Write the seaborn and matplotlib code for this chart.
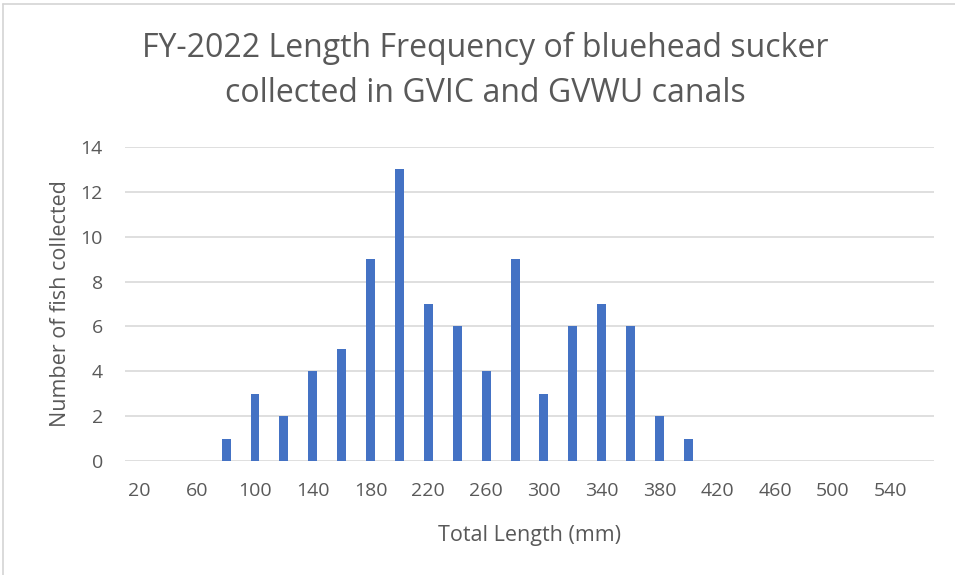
import pandas as pd
import matplotlib.pyplot as plt
from matplotlib.lines import Line2D
import seaborn as sns

# Length classes (mm) and counts
lengths = [20, 40, 60, 80, 100, 120, 140, 160, 180, 200, 220, 240, 260, 280,
           300, 320, 340, 360, 380, 400, 420, 440, 460, 480, 500, 520, 540, 560]
counts = [0, 0, 0, 1, 3, 2, 4, 5, 9, 13, 7, 6, 4, 9,
          3, 6, 7, 6, 2, 1, 0, 0, 0, 0, 0, 0, 0, 0]
y_ticks = [0, 2, 4, 6, 8, 10, 12, 14]

df = pd.DataFrame({'length': [str(v) for v in lengths], 'count': counts})

sns.set_style('white')
plt.rcParams['font.family'] = ['Open Sans', 'DejaVu Sans']
text_color = '#595959'
grid_color = '#D9D9D9'

fig = plt.figure(figsize=(9.55, 5.75), dpi=100)
ax = fig.add_axes([125 / 955, 1 - 461 / 575, (934 - 125) / 955, (461 - 147) / 575])

sns.barplot(data=df, x='length', y='count', order=df['length'], color='#4472C4',
            width=0.31, saturation=1, linewidth=0, ax=ax, zorder=3)

ax.set_xlim(-0.5, len(lengths) - 0.5)
ax.set_ylim(0, 14)
ax.set_yticks(y_ticks)
ax.set_yticklabels([str(v) for v in y_ticks], fontsize=14, color=text_color)

# every other category gets a label, like the original
ax.set_xticks(range(0, len(lengths), 2))
ax.set_xticklabels([str(v) for v in lengths[::2]], fontsize=14, color=text_color)
ax.tick_params(axis='x', length=0, pad=15)
ax.tick_params(axis='y', length=0, pad=16)

ax.yaxis.grid(True, color=grid_color, linewidth=1.2, zorder=0)
ax.set_axisbelow(True)
for s in ax.spines.values():
    s.set_visible(False)

ax.set_xlabel('Total Length (mm)', fontsize=15.5, color=text_color, labelpad=18)
ax.set_ylabel('Number of fish collected', fontsize=15.5, color=text_color, labelpad=7)

fig.text(485 / 955, 1 - 71 / 575,
         'FY-2022 Length Frequency of bluehead sucker\ncollected in GVIC and GVWU canals',
         ha='center', va='center', fontsize=23, color=text_color, linespacing=1.5)

# frame of the screenshot
fig.add_artist(Line2D([3 / 955, 3 / 955], [0, 1 - 4 / 575], color='#D4D4D4', linewidth=1.2))
fig.add_artist(Line2D([3 / 955, 1], [1 - 4 / 575, 1 - 4 / 575], color='#D4D4D4', linewidth=1.2))

fig.savefig('out.png', dpi=100, facecolor='white')
